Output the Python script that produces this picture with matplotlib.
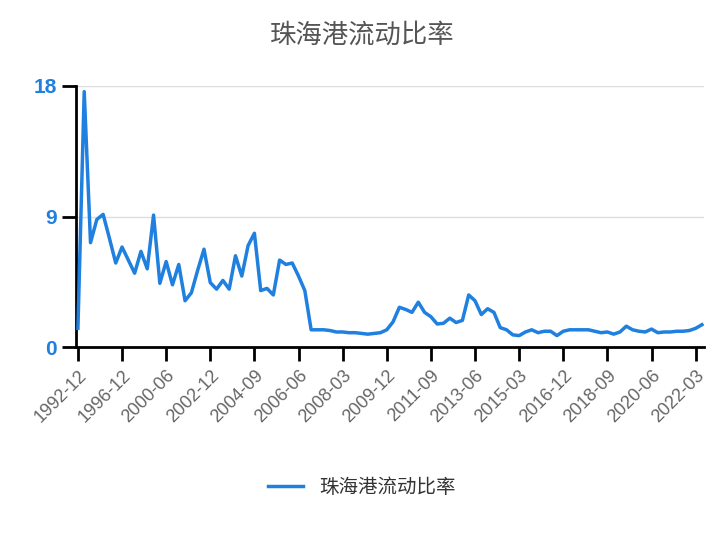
import matplotlib
matplotlib.use("Agg")
import matplotlib.pyplot as plt

plt.rcParams["font.family"] = ["Noto Sans CJK SC", "DejaVu Sans"]

LINE_COLOR = "#1f80e0"
TEXT_GRAY = "#555555"

values = [
    1.3, 17.6, 7.2, 8.8, 9.15, 7.5, 5.8, 6.9, 6.0, 5.1,
    6.6, 5.4, 9.1, 4.4, 5.9, 4.3, 5.7, 3.2, 3.75, 5.3,
    6.75, 4.45, 4.0, 4.6, 4.0, 6.3, 4.9, 7.0, 7.85, 3.9,
    4.05, 3.6, 6.0, 5.7, 5.8, 4.9, 3.9, 1.2, 1.2, 1.2,
    1.15, 1.05, 1.05, 1.0, 1.0, 0.95, 0.9, 0.95, 1.0, 1.2,
    1.75, 2.75, 2.6, 2.4, 3.1, 2.4, 2.1, 1.6, 1.65, 2.0,
    1.7, 1.85, 3.6, 3.2, 2.25, 2.65, 2.4, 1.35, 1.2, 0.85,
    0.8, 1.05, 1.2, 1.0, 1.1, 1.1, 0.8, 1.1, 1.2, 1.2,
    1.2, 1.2, 1.1, 1.0, 1.05, 0.9, 1.05, 1.45, 1.2, 1.1,
    1.05, 1.25, 1.0, 1.05, 1.05, 1.1, 1.1, 1.15, 1.3, 1.55,
]
tick_labels = [
    "1992-12", "1996-12", "2000-06", "2002-12", "2004-09", "2006-06",
    "2008-03", "2009-12", "2011-09", "2013-06", "2015-03", "2016-12",
    "2018-09", "2020-06", "2022-03",
]
tick_step = 7
y_ticks = [0, 9, 18]

fig = plt.figure(figsize=(7.24, 5.4), dpi=100)
ax = fig.add_axes([0.105, 0.357, 0.868, 0.484])

x = list(range(len(values)))
ax.plot(x, values, color=LINE_COLOR, linewidth=2.5, label="珠海港流动比率", zorder=3)

ax.set_xlim(-0.3, len(values) - 0.6)
ax.set_ylim(0, 18)
ax.set_yticks(y_ticks)
ax.set_yticklabels([str(t) for t in y_ticks], color=LINE_COLOR,
                   fontsize=15, fontweight="bold", family=["Liberation Sans"])
ax.set_xticks([i * tick_step for i in range(len(tick_labels))])
ax.set_xticklabels(tick_labels, rotation=45, ha="right", rotation_mode="anchor",
                   color="#666666", fontsize=13, family=["Liberation Sans"])
ax.tick_params(axis="x", length=10, width=2, color="black", pad=4)
ax.tick_params(axis="y", length=10, width=2, color="black", pad=4)

ax.grid(axis="y", color="#dddddd", linewidth=1)
for side in ["top", "right"]:
    ax.spines[side].set_visible(False)
for side in ["left", "bottom"]:
    ax.spines[side].set_color("black")
    ax.spines[side].set_linewidth(2)

fig.text(0.5, 0.935, "珠海港流动比率", ha="center", va="center",
         fontsize=19, color=TEXT_GRAY, fontweight="medium")
fig.legend(loc="center", bbox_to_anchor=(0.5, 0.097), frameon=False,
           fontsize=14, labelcolor="#333333", handlelength=1.8)

fig.savefig("out.png", dpi=100)
